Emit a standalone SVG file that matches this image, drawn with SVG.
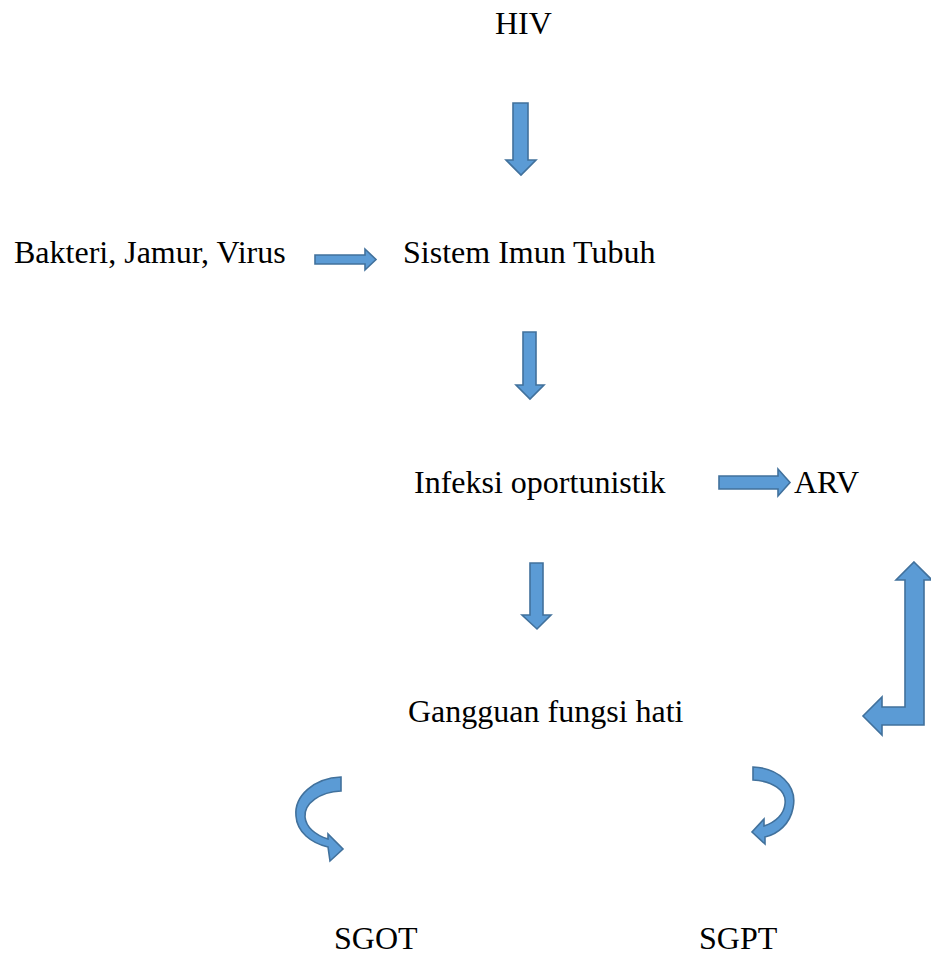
<svg xmlns="http://www.w3.org/2000/svg" width="931" height="956" viewBox="0 0 931 956">
<style>
.t{font-family:"Liberation Serif","Times New Roman",serif;font-size:32px;fill:#000}
.a{fill:#5B9BD5;stroke:#41719C;stroke-width:1.6;stroke-linejoin:miter}
</style>
<rect width="931" height="956" fill="#fff"/>
<g id="n-hiv"><text class="t" x="495" y="34">HIV</text></g>
<g id="n-bakteri"><text class="t" x="14" y="263">Bakteri, Jamur, Virus</text></g>
<g id="n-sistem"><text class="t" x="403" y="263">Sistem Imun Tubuh</text></g>
<g id="n-infeksi"><text class="t" x="414" y="493">Infeksi oportunistik</text></g>
<g id="n-arv"><text class="t" x="794" y="493">ARV</text></g>
<g id="n-gangguan"><text class="t" x="408" y="722">Gangguan fungsi hati</text></g>
<g id="n-sgot"><text class="t" x="334" y="949">SGOT</text></g>
<g id="n-sgpt"><text class="t" x="699" y="949">SGPT</text></g>
<g id="connectors">
<path class="a" d="M513,103 H528 V160 H536 L521,175 L506,160 H513 Z"/>
<path class="a" d="M315,255 H365 V249 L376,259.5 L365,270 V264 H315 Z"/>
<path class="a" d="M523,332 H536 V385 H544 L530,399 L516,385 H523 Z"/>
<path class="a" d="M530,563 H543 V615 H551 L537,629 L522,615 H530 Z"/>
<path class="a" d="M719,476 H778 V469 L790,482.5 L778,496 V489 H719 Z"/>
<path class="a" d="M914,562 L932,580 H924 V725 H882 V735 L863,716 L882,697 V707 H905 V580 H896 Z"/>
<path class="a" d="M341,777 C314,778 294,796 296,816 C297,832 311,843 328,847 L330,861 L343,849 L328,834 L328,839 C315,835 306,827 305,817 C304,803 320,792 341,791 Z"/>
<path class="a" d="M753,767 C778,768 798,785 793,808 C790,824 778,834 765,837 L765,844 L752,832 L764,819 L764,826 C776,822 784,814 785,804 C787,790 772,781 753,780 Z"/>
</g>
</svg>
